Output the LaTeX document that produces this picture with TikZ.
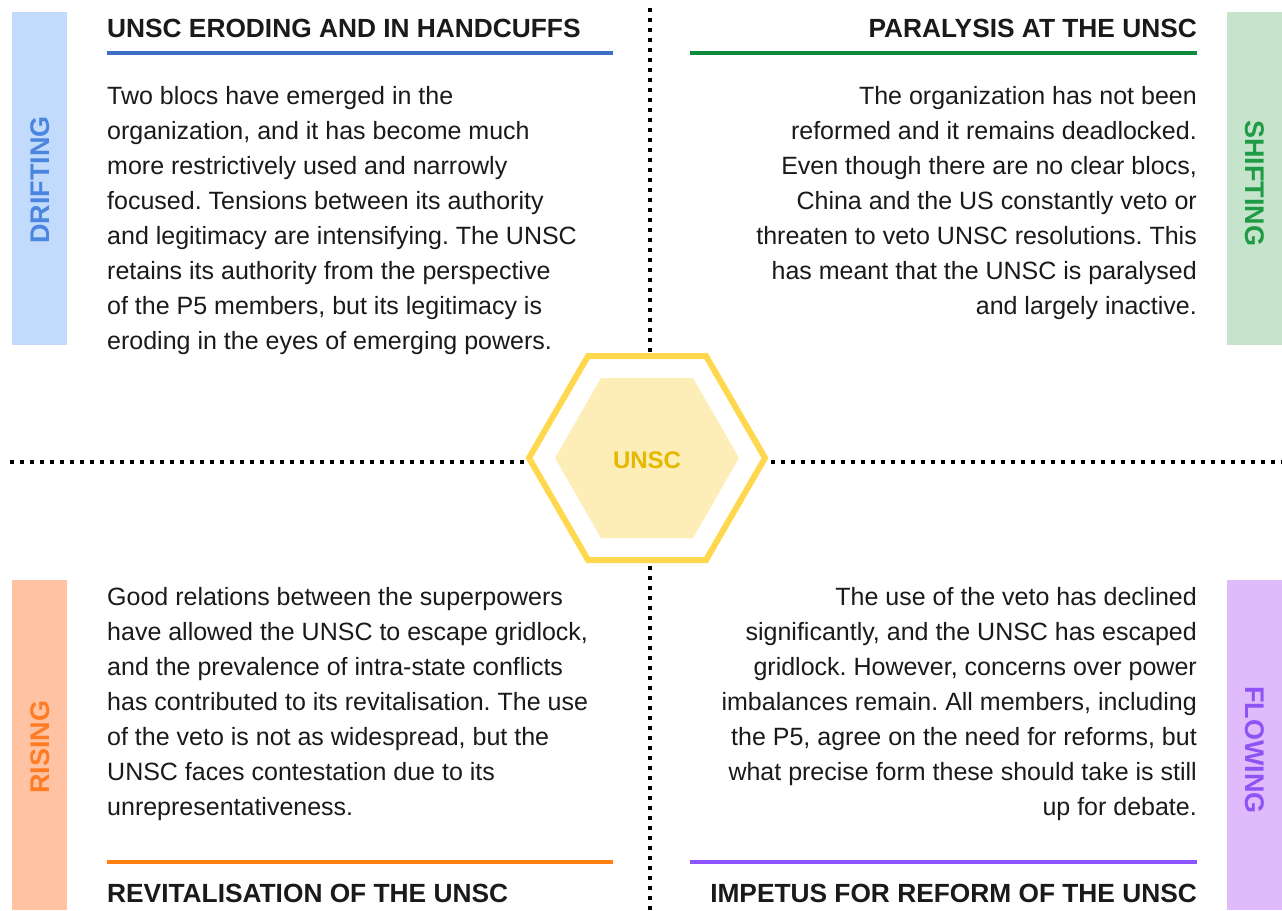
\documentclass[tikz,border=0pt]{standalone}
\usepackage{fontspec}
\setmainfont{Liberation Sans}
\frenchspacing
\definecolor{textc}{HTML}{1A1A1A}
\definecolor{bluebg}{HTML}{C2DAFB}
\definecolor{bluetx}{HTML}{4A86E0}
\definecolor{blueln}{HTML}{3A6FC4}
\definecolor{greenbg}{HTML}{C6E4CB}
\definecolor{greentx}{HTML}{1F9A45}
\definecolor{greenln}{HTML}{0F8A3A}
\definecolor{orangebg}{HTML}{FFC2A3}
\definecolor{orangetx}{HTML}{FF7C24}
\definecolor{orangeln}{HTML}{FF7F0F}
\definecolor{purplebg}{HTML}{DFBBFC}
\definecolor{purpletx}{HTML}{8E52F5}
\definecolor{purpleln}{HTML}{8C55FF}
\definecolor{hexln}{HTML}{FFD84D}
\definecolor{hexfill}{HTML}{FDEDB6}
\definecolor{hextx}{HTML}{E6B800}
\begin{document}
\begin{tikzpicture}[x=1pt,y=-1pt,
  body/.style={inner sep=0pt, font=\fontsize{25}{35}\selectfont\frenchspacing, text=textc},
  head/.style={inner sep=0pt, font=\fontsize{26.3}{30}\selectfont\bfseries, text=textc},
  sidelabel/.style={inner sep=0pt, font=\fontsize{27}{30}\selectfont\bfseries},
  rule/.style={line width=4pt},
  dotline/.style={line width=4pt, dash pattern=on 4pt off 6pt}]
\useasboundingbox (0,0) rectangle (1282,910);
\fill[white] (0,0) rectangle (1282,910);
% side bars
\fill[bluebg] (12,12) rectangle (67,345);
\node[sidelabel, text=bluetx, rotate=90] (lblA) at (40,180) {DRIFTING};
\fill[greenbg] (1227,12) rectangle (1282,345);
\node[sidelabel, text=greentx, rotate=-90] (lblB) at (1255,183) {SHIFTING};
\fill[orangebg] (12,580) rectangle (67,910);
\node[sidelabel, text=orangetx, rotate=90] (lblC) at (40,747) {RISING};
\fill[purplebg] (1227,580) rectangle (1282,910);
\node[sidelabel, text=purpletx, rotate=-90] (lblD) at (1255,750) {FLOWING};
% dividers
\draw[dotline] (650,8) -- (650,352);
\draw[dotline] (650,566) -- (650,910);
\draw[dotline] (10,462) -- (526,462);
\draw[dotline] (771,462) -- (1282,462);
% hexagon
\draw[hexln, line width=6pt, line join=miter] (529,458) -- (588,356) -- (706,356) -- (765,458) -- (706,560) -- (588,560) -- cycle;
\fill[hexfill] (555,458) -- (601,378) -- (693,378) -- (739,458) -- (693,538) -- (601,538) -- cycle;
\node[inner sep=0pt, font=\fontsize{24}{28}\selectfont\bfseries, text=hextx] (unsc) at (647,460) {UNSC};
% headings and rules
\node[head, anchor=base west] (hA) at (107,37) {UNSC ERODING AND IN HANDCUFFS};
\draw[rule, blueln] (107,53) -- (613,53);
\node[head, anchor=base east] (hB) at (1197,37) {PARALYSIS AT THE UNSC};
\draw[rule, greenln] (690,53) -- (1197,53);
\draw[rule, orangeln] (107,862) -- (613,862);
\node[head, anchor=base west] (hC) at (107,902) {REVITALISATION OF THE UNSC};
\draw[rule, purpleln] (690,862) -- (1197,862);
\node[head, anchor=base east] (hD) at (1197,902) {IMPETUS FOR REFORM OF THE UNSC};
% paragraphs
\node[body, anchor=north west, align=left] (pA) at (107,86) {Two blocs have emerged in the\\organization, and it has become much\\more restrictively used and narrowly\\focused. Tensions between its authority\\and legitimacy are intensifying. The UNSC\\retains its authority from the perspective\\of the P5 members, but its legitimacy is\\eroding in the eyes of emerging powers.};
\node[body, anchor=north east, align=right] (pB) at (1197,86) {The organization has not been\\reformed and it remains deadlocked.\\Even though there are no clear blocs,\\China and the US constantly veto or\\threaten to veto UNSC resolutions. This\\has meant that the UNSC is paralysed\\and largely inactive.};
\node[body, anchor=north west, align=left] (pC) at (107,587) {Good relations between the superpowers\\have allowed the UNSC to escape gridlock,\\and the prevalence of intra-state conflicts\\has contributed to its revitalisation. The use\\of the veto is not as widespread, but the\\UNSC faces contestation due to its\\unrepresentativeness.};
\node[body, anchor=north east, align=right] (pD) at (1197,587) {The use of the veto has declined\\significantly, and the UNSC has escaped\\gridlock. However, concerns over power\\imbalances remain. All members, including\\the P5, agree on the need for reforms, but\\what precise form these should take is still\\up for debate.};
\end{tikzpicture}
\end{document}
